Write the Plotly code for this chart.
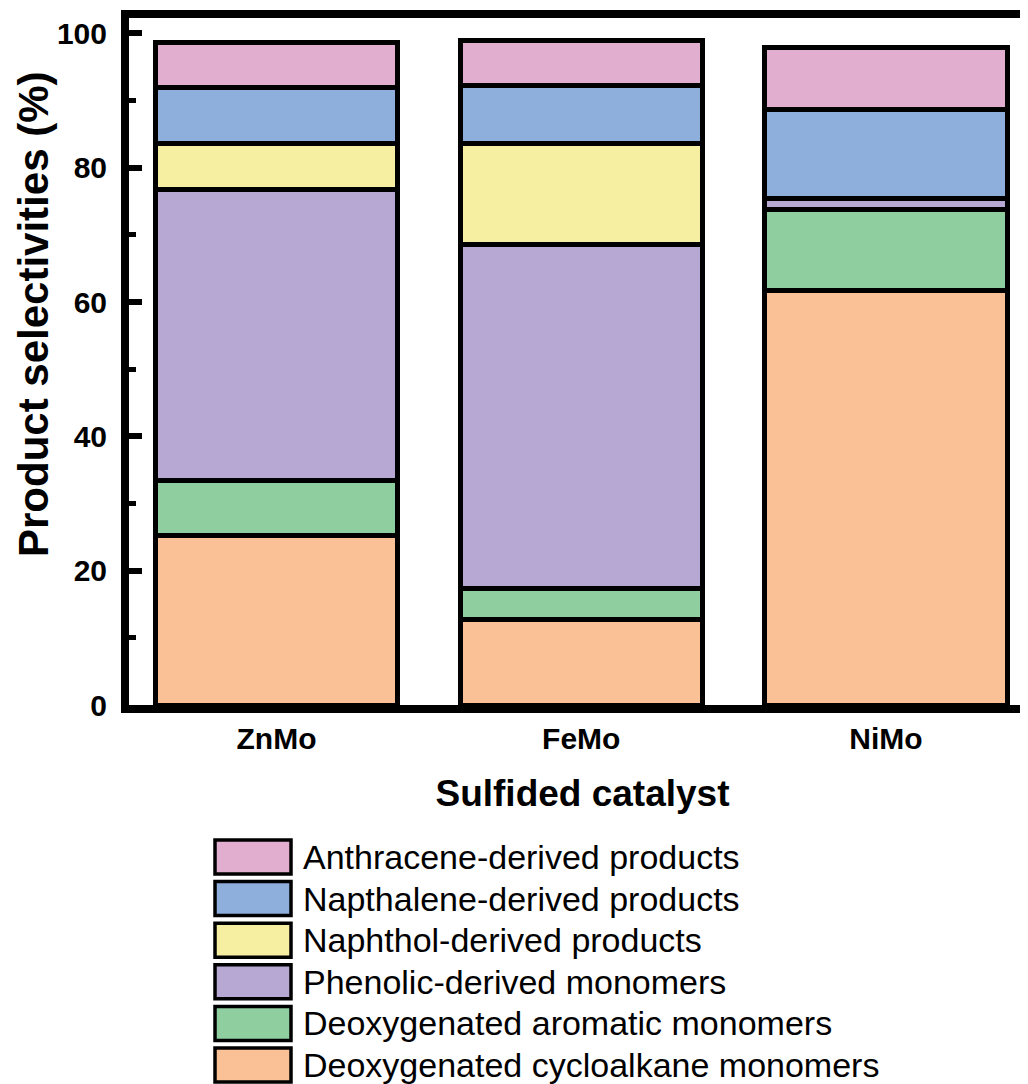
import plotly.graph_objects as go

catalysts = ["ZnMo", "FeMo", "NiMo"]
series_names = [
    "Deoxygenated cycloalkane monomers",
    "Deoxygenated aromatic monomers",
    "Phenolic-derived monomers",
    "Naphthol-derived products",
    "Napthalene-derived products",
    "Anthracene-derived products",
]
cycloalkane = [25.2, 12.8, 61.7]
aromatic = [8.2, 4.6, 12.1]
phenolic = [43.4, 51.2, 1.6]
naphthol = [6.8, 15.0, 0.0]
naphthalene = [8.3, 8.7, 13.3]
anthracene = [6.8, 6.6, 9.2]
series_values = [cycloalkane, aromatic, phenolic, naphthol, naphthalene, anthracene]
colors = ["#FAC096", "#8FCE9E", "#B6A8D2", "#F6EEA0", "#8EAEDC", "#E2AED0"]
y_ticks = [0, 20, 40, 60, 80, 100]

FONT = "Arial, Liberation Sans, Helvetica, sans-serif"
W, H = 1028, 1084
OFF = 8  # page body margin
L, R, T, B = 121, 0, 10, 387
PW, PH = W - L - R, H - T - B

fig = go.Figure()
for name, vals, col in zip(series_names, series_values, colors):
    fig.add_trace(go.Bar(
        x=catalysts, y=vals, name=name, width=0.795,
        marker=dict(color=col, line=dict(color="black", width=5)),
        showlegend=False,
    ))

def px2paper(px, py):
    fx, fy = px - OFF, py - OFF
    return (fx - L) / PW, (H - B - fy) / PH

# custom legend (large swatches), reversed order like stacked legend
shapes = []
annotations = []
for i, (name, col) in enumerate(reversed(list(zip(series_names, colors)))):
    cy = 857 + i * 41.6
    x0, y0 = px2paper(215, cy - 17)
    x1, y1 = px2paper(291, cy + 17)
    shapes.append(dict(type="rect", xref="paper", yref="paper", x0=x0, x1=x1, y0=y1, y1=y0,
                       fillcolor=col, line=dict(color="black", width=3.5)))
    tx, ty = px2paper(301, cy)
    annotations.append(dict(text=name, xref="paper", yref="paper", x=tx, y=ty,
                            xanchor="left", yanchor="middle", showarrow=False,
                            font=dict(family=FONT, size=34, color="black")))

# y-axis title as annotation (off-centre in the reference)
ax_, ay_ = px2paper(33, 315)
annotations.append(dict(text="Product selectivities (%)", xref="paper", yref="paper",
                        x=ax_, y=ay_, xanchor="center", yanchor="middle", textangle=-90,
                        showarrow=False,
                        font=dict(family=FONT, size=42, color="black", weight="bold")))

fig.update_layout(
    barmode="stack",
    width=W, height=H,
    margin=dict(l=L, r=R, t=T, b=B),
    paper_bgcolor="white", plot_bgcolor="white",
    font=dict(family=FONT, color="black"),
    shapes=shapes, annotations=annotations,
    xaxis=dict(
        range=[-0.484, -0.484 + PW / 304.75],
        showline=True, linecolor="black", linewidth=8, mirror=True,
        ticks="", showgrid=False, zeroline=False,
        tickfont=dict(family=FONT, size=30, color="black", weight="bold"),
        title=dict(text="Sulfided catalyst", standoff=29,
                   font=dict(family=FONT, size=37, color="black", weight="bold")),
    ),
    yaxis=dict(
        range=[0, 102.3],
        tickvals=y_ticks,
        showline=True, linecolor="black", linewidth=8, mirror=False,
        ticks="inside", ticklen=13, tickwidth=6, tickcolor="black",
        minor=dict(dtick=10, ticks="inside", ticklen=7, tickwidth=5, tickcolor="black", showgrid=False),
        showgrid=False, zeroline=False,
        tickfont=dict(family=FONT, size=30, color="black", weight="bold"),
        ticklabelstandoff=8,
    ),
)

fig.write_html("out.html")
